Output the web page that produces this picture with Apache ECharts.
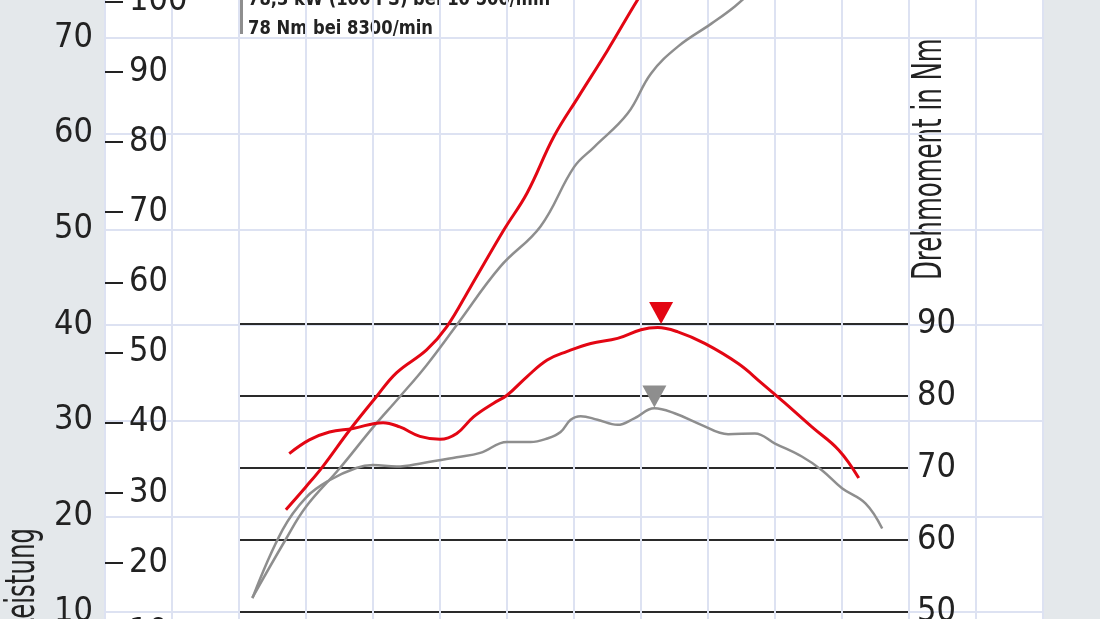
<!DOCTYPE html>
<html><head><meta charset="utf-8">
<script src="https://cdn.jsdelivr.net/npm/echarts@6/dist/echarts.min.js"></script>
<style>html,body{margin:0;padding:0;background:#e4e8eb;}#c{width:1100px;height:619px;}</style>
</head><body><div id="c"></div>
<script>
const FONT = "'Liberation Sans Narrow','DejaVu Sans Condensed',sans-serif";

// x axis: engine speed (1/min)
const rpmMin = 0, rpmMax = 14000, rpmStep = 1000;
// left axes
const kwMin = 0, kwMax = 80, kwStep = 10;
const psMin = 0, psMax = 110, psStep = 10;
// right axis (torque)
const nmMin = 50, nmMax = 90, nmStep = 10;

// Power curves (kW)
const grayPowerRpm = [2200, 2690, 3000, 3500, 4000, 4400, 4800, 5250, 5900, 6500, 7000, 7300, 7800, 8150, 8550, 9050, 9400, 10000, 10500, 11000, 11600];
const grayPowerKw  = [11.5, 17.5, 21.0, 25.0, 29.3, 32.5, 35.8, 40.0, 46.1, 50.3, 56.5, 58.6, 62.1, 66.3, 69.1, 71.5, 73.3, 76.9, 78.3, 77.3, 74.8];
const redPowerRpm  = [2700, 3000, 3250, 3650, 4050, 4350, 4800, 5100, 5450, 5950, 6300, 6700, 7070, 7500, 7950, 8300];
const redPowerKw   = [20.7, 23.1, 25.2, 29.0, 32.5, 35.0, 37.4, 39.8, 43.9, 49.9, 53.8, 59.7, 63.9, 68.7, 74.0, 77.8];

// Torque curves (Nm)
const grayTorqueRpm = [2200, 2650, 3000, 3350, 3750, 4000, 4350, 4750, 5250, 5600, 6000, 6350, 6600, 6800, 6950, 7100, 7350, 7650, 7900, 8200, 8500, 8900, 9300, 9700, 10000, 10400, 10700, 11000, 11350, 11600];
const grayTorqueNm  = [51.9, 61.4, 65.9, 68.3, 70.0, 70.4, 70.2, 70.7, 71.5, 72.1, 73.6, 73.6, 74.1, 75.0, 76.7, 77.2, 76.7, 76.0, 76.9, 78.3, 77.6, 76.0, 74.7, 74.8, 73.4, 71.6, 69.7, 67.2, 65.1, 61.6];
const redTorqueRpm  = [2750, 3050, 3350, 3700, 4150, 4400, 4700, 5000, 5250, 5500, 5800, 6000, 6300, 6600, 6900, 7250, 7650, 8000, 8250, 8550, 8950, 9450, 9800, 10150, 10550, 10950, 11250];
const redTorqueNm   = [72.0, 73.9, 75.0, 75.5, 76.3, 75.7, 74.4, 74.0, 74.8, 77.1, 79.0, 80.1, 82.7, 85.0, 86.2, 87.3, 88.0, 89.2, 89.5, 88.9, 87.3, 84.5, 81.8, 79.0, 75.7, 72.5, 68.6];

// Peak markers
const redPeak  = [8300, 90.0];
const grayPeak = [8200, 78.4];

// Header texts
const headerLines = ['78,3 kW (106 PS) bei 10 500/min', '78 Nm bei 8300/min'];
const leftTitle = 'Leistung';
const rightTitle = 'Drehmoment in Nm';

const RED = '#e30613', GRAY = '#8e8e8e', LAV = '#dde2f2', DARK = '#2a2a2a';
const zip = (a, b) => a.map((v, i) => [v, b[i]]);

const chart = echarts.init(document.getElementById('c'), null, {renderer: 'canvas'});
const labelBase = {fontFamily: FONT, fontSize: 34, color: '#222'};
const headStyle = {fontFamily: FONT, fontSize: 20, fontWeight: 'bold', fill: '#222', textAlign: 'left', align: 'left', textVerticalAlign: 'middle', verticalAlign: 'middle'};
chart.setOption({
  animation: false,
  backgroundColor: 'transparent',
  grid: [
    {left: 105, width: 938, top: -57.67, height: 765.33, show: true, backgroundColor: '#ffffff', borderWidth: 0, containLabel: false, outerBoundsMode: 'none'},
    {left: 239, width: 670, top: 324, height: 288, show: false, containLabel: false, outerBoundsMode: 'none'},
    {left: 105, width: 938, top: -68.7, height: 772.1, show: false, containLabel: false, outerBoundsMode: 'none'}
  ],
  xAxis: [
    {gridIndex: 0, type: 'value', min: rpmMin, max: rpmMax, interval: rpmStep,
     axisLine: {show: false}, axisTick: {show: false}, axisLabel: {show: false},
     splitLine: {show: true, lineStyle: {color: LAV, width: 2}}},
    {gridIndex: 1, type: 'value', min: 2000, max: 12000, show: false},
    {gridIndex: 2, type: 'value', min: rpmMin, max: rpmMax, show: false}
  ],
  yAxis: [
    {gridIndex: 0, type: 'value', min: kwMin, max: kwMax, interval: kwStep, position: 'left',
     axisLine: {show: false}, axisTick: {show: false},
     axisLabel: Object.assign({margin: 12, padding: [0, 0, 7, 0]}, labelBase),
     splitLine: {show: true, lineStyle: {color: LAV, width: 2}}},
    {gridIndex: 1, type: 'value', min: nmMin, max: nmMax, interval: nmStep, position: 'right',
     axisLine: {show: false}, axisTick: {show: false},
     axisLabel: Object.assign({margin: 8, padding: [0, 0, 4, 0]}, labelBase),
     splitLine: {show: true, lineStyle: {color: DARK, width: 2}}},
    {gridIndex: 2, type: 'value', min: psMin, max: psMax, interval: psStep, position: 'left',
     axisLine: {show: false},
     axisTick: {show: true, inside: true, length: 18, lineStyle: {color: '#222', width: 2}},
     axisLabel: Object.assign({inside: true, margin: 24}, labelBase),
     splitLine: {show: false}}
  ],
  graphic: [
    {type: 'rect', x: 240, y: 0, shape: {width: 3, height: 34}, style: {fill: GRAY}},
    {type: 'text', x: 248, y: 0, scaleX: 0.91, style: Object.assign({text: headerLines[0]}, headStyle)},
    {type: 'text', x: 248, y: 29, scaleX: 0.91, style: Object.assign({text: headerLines[1]}, headStyle)},
    {type: 'text', x: 24, y: 528, rotation: Math.PI / 2, scaleX: 0.68, style: {text: leftTitle, fontFamily: FONT, fontSize: 40, fill: '#222', textAlign: 'right', align: 'right', textVerticalAlign: 'middle', verticalAlign: 'middle'}},
    {type: 'text', x: 931, y: 280, rotation: Math.PI / 2, scaleX: 0.68, style: {text: rightTitle, fontFamily: FONT, fontSize: 40, fill: '#222', textAlign: 'left', align: 'left', textVerticalAlign: 'middle', verticalAlign: 'middle'}}
  ],
  series: [
    {type: 'line', name: 'Leistung grau', xAxisIndex: 0, yAxisIndex: 0, data: zip(grayPowerRpm, grayPowerKw), smooth: 0.4, symbol: 'none', lineStyle: {color: GRAY, width: 2.5}, z: 4},
    {type: 'line', name: 'Leistung rot', xAxisIndex: 0, yAxisIndex: 0, data: zip(redPowerRpm, redPowerKw), smooth: 0.4, symbol: 'none', lineStyle: {color: RED, width: 3}, z: 5},
    {type: 'line', name: 'Drehmoment grau', xAxisIndex: 1, yAxisIndex: 1, data: zip(grayTorqueRpm, grayTorqueNm), smooth: 0.4, symbol: 'none', clip: false, lineStyle: {color: GRAY, width: 2.5}, z: 4},
    {type: 'line', name: 'Drehmoment rot', xAxisIndex: 1, yAxisIndex: 1, data: zip(redTorqueRpm, redTorqueNm), smooth: 0.4, symbol: 'none', clip: false, lineStyle: {color: RED, width: 3}, z: 5},
    {type: 'scatter', xAxisIndex: 1, yAxisIndex: 1, data: [redPeak], symbol: 'triangle', symbolRotate: 180, symbolSize: [24, 22], symbolOffset: [0, '-50%'], clip: false, itemStyle: {color: RED, opacity: 1}, z: 6},
    {type: 'scatter', xAxisIndex: 1, yAxisIndex: 1, data: [grayPeak], symbol: 'triangle', symbolRotate: 180, symbolSize: [24, 22], symbolOffset: [0, '-50%'], clip: false, itemStyle: {color: GRAY, opacity: 1}, z: 6}
  ]
});
</script></body></html>
